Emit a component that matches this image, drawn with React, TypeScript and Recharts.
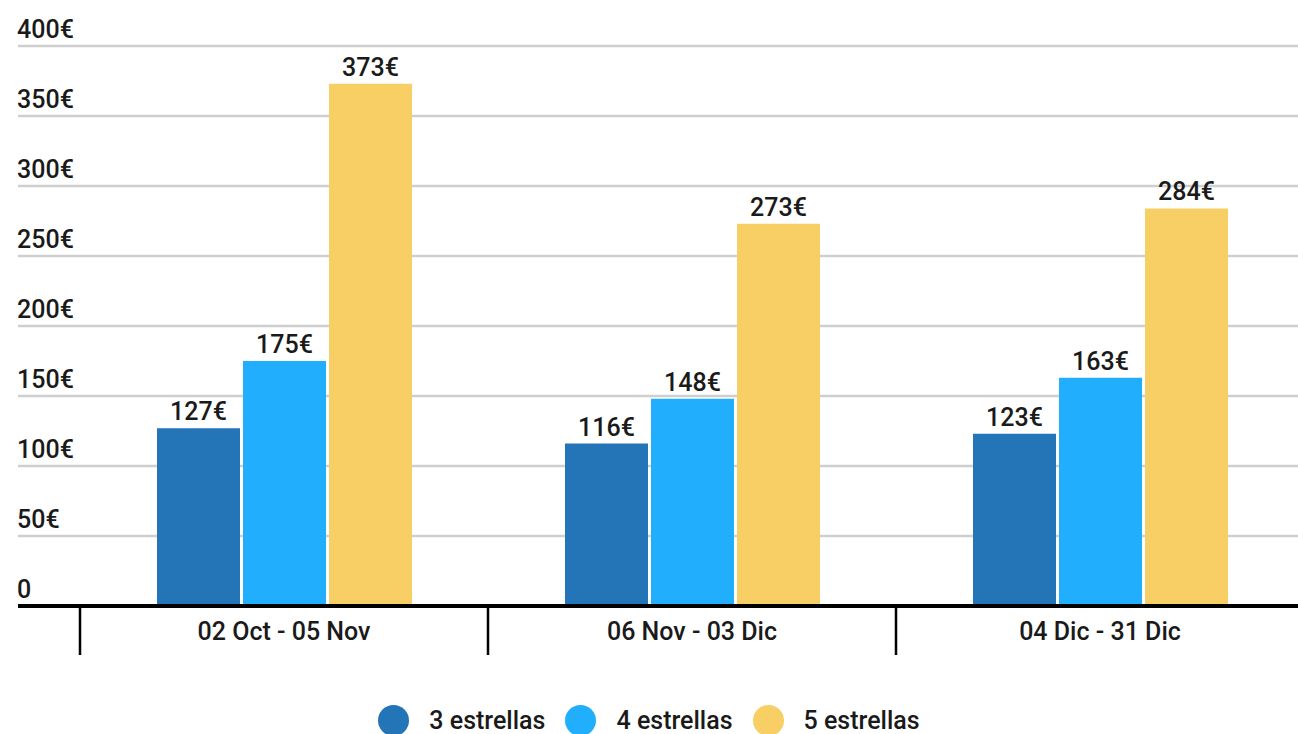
import { Bar, BarChart, CartesianGrid, LabelList, Legend, XAxis, YAxis } from "recharts";

const periods = ["02 Oct - 05 Nov", "06 Nov - 03 Dic", "04 Dic - 31 Dic"];
const tres = [127, 116, 123];
const cuatro = [175, 148, 163];
const cinco = [373, 273, 284];
const yTicks = [0, 50, 100, 150, 200, 250, 300, 350, 400];

const series = [
  { key: "tres", name: "3 estrellas", color: "#2475B8" },
  { key: "cuatro", name: "4 estrellas", color: "#21AFFD" },
  { key: "cinco", name: "5 estrellas", color: "#F8CF65" },
];

const data = periods.map((period, i) => ({
  period,
  tres: tres[i],
  cuatro: cuatro[i],
  cinco: cinco[i],
}));

const FONT = "Roboto, sans-serif";

function YTick({ y, payload }: any) {
  return (
    <text x={17} y={y - 8} fontFamily={FONT} fontSize={25} fontWeight={500} fill="#1a1a1a">
      {payload.value === 0 ? "0" : `${payload.value}€`}
    </text>
  );
}

function XTick({ x, y, payload }: any) {
  const half = payload.offset || 204;
  return (
    <g>
      <line x1={x - half} x2={x - half} y1={y - 8} y2={y + 41} stroke="#000" strokeWidth={2.5} />
      <text x={x} y={y + 26} textAnchor="middle" fontFamily={FONT} fontSize={25} fontWeight={500} fill="#1a1a1a">
        {payload.value}
      </text>
    </g>
  );
}

function LegendContent() {
  return (
    <div style={{ display: "flex", justifyContent: "center", alignItems: "center", height: 30, fontFamily: FONT, fontSize: 25, fontWeight: 500, color: "#1a1a1a" }}>
      {series.map((s) => (
        <div key={s.key} style={{ display: "flex", alignItems: "center", margin: "0 10px" }}>
          <span style={{ width: 31, height: 31, borderRadius: "50%", background: s.color, display: "inline-block", marginRight: 20 }} />
          <span>{s.name}</span>
        </div>
      ))}
    </div>
  );
}

export default function App() {
  return (
    <div style={{ position: "fixed", top: 0, left: 0, width: 1298, height: 734, overflow: "hidden", background: "#fff" }}>
      <BarChart
        width={1310}
        height={760}
        data={data}
        margin={{ top: 46, right: 6, left: 17, bottom: 10 }}
        barCategoryGap={77}
        barGap={3}
      >
        <CartesianGrid horizontal vertical={false} stroke="#cfcfcf" strokeWidth={2.5} />
        <YAxis
          domain={[0, 400]}
          ticks={yTicks}
          width={1}
          axisLine={false}
          tickLine={false}
          tick={<YTick />}
        />
        <XAxis
          dataKey="period"
          height={114}
          padding={{ left: 62, right: 0 }}
          axisLine={{ stroke: "#000", strokeWidth: 4 }}
          tickLine={false}
          tick={<XTick />}
          interval={0}
        />
        <Legend
          content={<LegendContent />}
          verticalAlign="bottom"
          wrapperStyle={{ top: 705, bottom: "auto", left: 0, width: 1298 }}
        />
        {series.map((s) => (
          <Bar key={s.key} dataKey={s.key} name={s.name} fill={s.color} isAnimationActive={false}>
            <LabelList
              dataKey={s.key}
              position="top"
              offset={8}
              formatter={(v: any) => `${v}€`}
              style={{ fontFamily: FONT, fontSize: 25, fontWeight: 500, fill: "#1a1a1a" }}
            />
          </Bar>
        ))}
      </BarChart>
    </div>
  );
}
